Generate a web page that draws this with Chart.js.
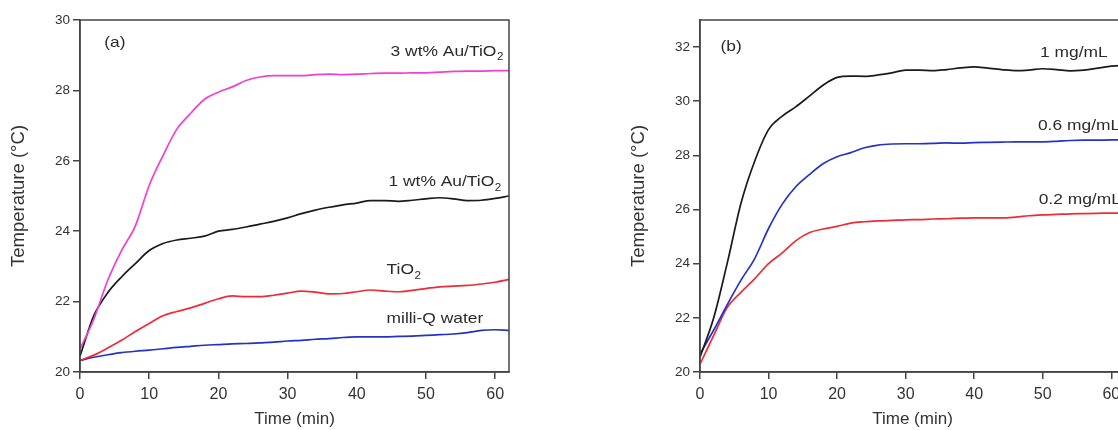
<!DOCTYPE html>
<html>
<head>
<meta charset="utf-8">
<script src="https://cdn.jsdelivr.net/npm/chart.js@4"></script>
<style>
  html, body { margin: 0; padding: 0; background: #fff; }
  body { width: 1118px; height: 430px; overflow: hidden; position: relative; }
  .painel { position: absolute; top: 0; width: 560px; height: 430px; }
  #painelA { left: 0; }
  #painelB { left: 620px; }
</style>
</head>
<body>
<div class="painel" id="painelA"><canvas id="graficoA"></canvas></div>
<div class="painel" id="painelB"><canvas id="graficoB"></canvas></div>
<script>
// tempo (min), comum a todas as curvas
const tempos = [0, 2, 4, 6, 8, 10, 12, 14, 16, 18, 20, 22, 24, 26, 28, 30, 32, 34, 36, 38, 40, 42, 44, 46, 48, 50, 52, 54, 56, 58, 60, 62]

// (a) temperatura (°C)
const au3 = [20.65, 21.5, 22.6, 23.45, 24.15, 25.3, 26.15, 26.9, 27.35, 27.75, 27.95, 28.1, 28.28, 28.38, 28.42, 28.42, 28.42, 28.45, 28.46, 28.45, 28.46, 28.48, 28.49, 28.49, 28.5, 28.5, 28.52, 28.54, 28.55, 28.55, 28.56, 28.56]
const au1 = [20.45, 21.6, 22.25, 22.7, 23.08, 23.45, 23.65, 23.75, 23.8, 23.86, 24.0, 24.05, 24.12, 24.2, 24.28, 24.38, 24.5, 24.6, 24.68, 24.75, 24.8, 24.87, 24.87, 24.85, 24.88, 24.92, 24.95, 24.92, 24.87, 24.88, 24.93, 25.0]
const tio2 = [20.33, 20.48, 20.68, 20.9, 21.15, 21.38, 21.6, 21.72, 21.82, 21.95, 22.08, 22.16, 22.14, 22.14, 22.18, 22.24, 22.3, 22.27, 22.22, 22.23, 22.28, 22.33, 22.3, 22.28, 22.32, 22.37, 22.42, 22.44, 22.46, 22.5, 22.55, 22.63]
const agua = [20.33, 20.42, 20.49, 20.55, 20.59, 20.62, 20.66, 20.7, 20.73, 20.76, 20.78, 20.8, 20.81, 20.83, 20.85, 20.88, 20.9, 20.93, 20.95, 20.98, 21.0, 21.0, 21.0, 21.01, 21.02, 21.04, 21.06, 21.08, 21.12, 21.18, 21.2, 21.18]

// (b) temperatura (°C)
const conc10 = [20.55, 22.0, 24.05, 26.25, 27.8, 28.95, 29.45, 29.8, 30.2, 30.6, 30.88, 30.93, 30.92, 30.97, 31.05, 31.15, 31.15, 31.13, 31.17, 31.23, 31.27, 31.22, 31.17, 31.13, 31.15, 31.2, 31.17, 31.12, 31.15, 31.22, 31.3, 31.32]
const conc06 = [20.66, 21.55, 22.5, 23.4, 24.2, 25.3, 26.2, 26.85, 27.3, 27.7, 27.95, 28.1, 28.28, 28.38, 28.42, 28.43, 28.43, 28.44, 28.46, 28.45, 28.47, 28.48, 28.49, 28.5, 28.5, 28.5, 28.52, 28.55, 28.56, 28.56, 28.57, 28.57]
const conc02 = [20.29, 21.35, 22.4, 22.95, 23.45, 24.0, 24.4, 24.85, 25.15, 25.28, 25.38, 25.5, 25.55, 25.58, 25.6, 25.62, 25.63, 25.65, 25.66, 25.68, 25.69, 25.69, 25.69, 25.72, 25.77, 25.8, 25.82, 25.84, 25.85, 25.86, 25.87, 25.87]

// rotulos escritos dentro do grafico (posicao em unidades dos eixos)
const rotulosA = [
  { texto: "(a)", x: 3.5, y: 29.35, alinhar: "left" },
  { texto: "3 wt% Au/TiO", sub: "2", x: 61.1, y: 29.1, alinhar: "right" },
  { texto: "1 wt% Au/TiO", sub: "2", x: 60.8, y: 25.4, alinhar: "right" },
  { texto: "TiO", sub: "2", x: 44.3, y: 22.9, alinhar: "left" },
  { texto: "milli-Q water", x: 44.3, y: 21.52, alinhar: "left" }
]
const rotulosB = [
  { texto: "(b)", x: 3.0, y: 32.0, alinhar: "left" },
  { texto: "1 mg/mL", x: 49.6, y: 31.77, alinhar: "left" },
  { texto: "0.6 mg/mL", x: 49.3, y: 29.09, alinhar: "left" },
  { texto: "0.2 mg/mL", x: 49.4, y: 26.37, alinhar: "left" }
]

Chart.defaults.font.family = "'Liberation Sans', Arial, sans-serif"
Chart.defaults.color = "#333"

const pontos = valores => tempos.map((t, i) => ({ x: t, y: valores[i] }))

function serie(valores, cor) {
  return {
    data: pontos(valores),
    borderColor: cor,
    borderWidth: 1.7,
    pointRadius: 0,
    cubicInterpolationMode: "monotone",
    fill: false
  }
}

function desenharRotulo(ctx, px, py, r) {
  ctx.save()
  ctx.translate(px, py)
  ctx.scale(1.16, 1)
  ctx.font = "15px 'Liberation Sans', Arial, sans-serif"
  const largura = ctx.measureText(r.texto).width
  let larguraSub = 0
  if (r.sub) {
    ctx.font = "10px 'Liberation Sans', Arial, sans-serif"
    larguraSub = ctx.measureText(r.sub).width
  }
  const inicio = r.alinhar === "right" ? -(largura + larguraSub) : 0
  ctx.font = "15px 'Liberation Sans', Arial, sans-serif"
  ctx.fillText(r.texto, inicio, 0)
  if (r.sub) {
    ctx.font = "10px 'Liberation Sans', Arial, sans-serif"
    ctx.fillText(r.sub, inicio + largura + 0.5, 6)
  }
  ctx.restore()
}

const moldura = {
  id: "moldura",
  afterDraw(chart, args, opts) {
    const { ctx, chartArea: a } = chart
    const { x, y } = chart.scales
    ctx.save()
    ctx.strokeStyle = "#444"
    ctx.lineWidth = 1.5
    ctx.strokeRect(a.left, a.top, a.right - a.left, a.bottom - a.top)
    ctx.fillStyle = "#2b2b2b"
    ctx.textBaseline = "middle"
    opts.rotulos.forEach(r => desenharRotulo(ctx, x.getPixelForValue(r.x), y.getPixelForValue(r.y), r))
    ctx.restore()
  }
}

function criarGrafico(campo, datasets, yMax, paddingDireita, rotulos) {
  new Chart(document.getElementById(campo), {
    type: "line",
    data: { datasets: datasets },
    plugins: [moldura],
    options: {
      responsive: true,
      maintainAspectRatio: false,
      animation: false,
      layout: { padding: { top: 20, right: paddingDireita, left: 0, bottom: 0 } },
      plugins: {
        legend: { display: false },
        tooltip: { enabled: false },
        moldura: { rotulos: rotulos }
      },
      scales: {
        x: {
          type: "linear",
          min: 0,
          max: 62,
          afterFit: scale => { scale.height = 58 },
          border: { color: "#444", width: 1.5 },
          grid: { drawOnChartArea: false, tickLength: 7, color: "#444", lineWidth: 1.5 },
          ticks: { stepSize: 10, includeBounds: false, padding: 6, maxRotation: 0, font: { size: 16 }, color: "#333" },
          title: { display: true, text: "Time (min)", font: { size: 17 }, color: "#333", padding: { top: 0, bottom: 0 } }
        },
        y: {
          min: 20,
          max: yMax,
          afterFit: scale => { scale.width = 80 },
          border: { color: "#444", width: 1.5 },
          grid: { drawOnChartArea: false, tickLength: 7, color: "#444", lineWidth: 1.5 },
          ticks: { stepSize: 2, includeBounds: false, padding: 3, font: { size: 13.5 }, color: "#333" },
          title: { display: true, text: "Temperature (°C)", font: { size: 18.5 }, color: "#333", padding: { top: 8, bottom: 0 } }
        }
      }
    }
  })
}

criarGrafico("graficoA", [
  serie(au3, "#f03fd4"),
  serie(au1, "#1a1a1a"),
  serie(tio2, "#ee2b36"),
  serie(agua, "#2433c4")
], 30, 51, rotulosA)

criarGrafico("graficoB", [
  serie(conc10, "#1a1a1a"),
  serie(conc06, "#2433c4"),
  serie(conc02, "#ee2b36")
], 33, 55, rotulosB)
</script>
</body>
</html>
